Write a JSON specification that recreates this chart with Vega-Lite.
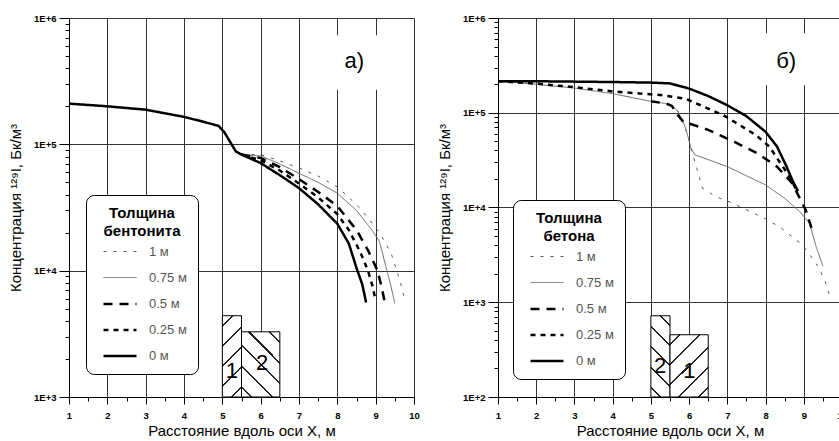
{
  "$schema": "https://vega.github.io/schema/vega-lite/v6.json",
  "background": "white",
  "padding": {"left": 8, "top": 13, "right": 0, "bottom": 0},
  "config": {
    "font": "Liberation Sans",
    "view": {"stroke": null},
    "axis": {
      "domainColor": "#000", "tickColor": "#000", "labelColor": "#000",
      "labelFont": "Liberation Sans", "labelFontWeight": "bold", "labelFontSize": 9.5,
      "titleFont": "Liberation Sans", "titleFontWeight": "normal", "titleFontSize": 15, "titleColor": "#000",
      "gridColor": "#333", "gridWidth": 1, "labelOverlap": false, "labelFlush": false
    },
    "legend": {
      "fillColor": "white", "strokeColor": "#000", "cornerRadius": 8, "padding": 11,
      "titleFont": "Liberation Sans", "titleFontSize": 15, "titleFontWeight": "bold", "titleColor": "#000",
      "titleAlign": "center", "titleAnchor": "middle", "titleLineHeight": 18, "titlePadding": 6,
      "labelFont": "Liberation Sans", "labelFontSize": 13, "labelColor": "#555", "labelOffset": 22,
      "rowPadding": 12, "symbolType": "M-3,0H3", "symbolSize": 121, "symbolOffset": 16
    }
  },
  "datasets": {
    "a": [
      {"t": "1 м", "x": 5.5, "y": 83000}, {"t": "1 м", "x": 6, "y": 83000}, {"t": "1 м", "x": 6.5, "y": 74000}, {"t": "1 м", "x": 7, "y": 65000}, {"t": "1 м", "x": 7.5, "y": 56000}, {"t": "1 м", "x": 8, "y": 46000}, {"t": "1 м", "x": 8.3, "y": 38000}, {"t": "1 м", "x": 8.6, "y": 31000}, {"t": "1 м", "x": 8.85, "y": 25000}, {"t": "1 м", "x": 9.1, "y": 20000}, {"t": "1 м", "x": 9.4, "y": 13800}, {"t": "1 м", "x": 9.55, "y": 10000}, {"t": "1 м", "x": 9.65, "y": 8000}, {"t": "1 м", "x": 9.75, "y": 6000},
      {"t": "0.75 м", "x": 5.5, "y": 83000}, {"t": "0.75 м", "x": 6, "y": 81000}, {"t": "0.75 м", "x": 6.5, "y": 70000}, {"t": "0.75 м", "x": 7, "y": 59000}, {"t": "0.75 м", "x": 7.5, "y": 50000}, {"t": "0.75 м", "x": 8, "y": 41000}, {"t": "0.75 м", "x": 8.5, "y": 30000}, {"t": "0.75 м", "x": 8.9, "y": 21000}, {"t": "0.75 м", "x": 9.1, "y": 17000}, {"t": "0.75 м", "x": 9.26, "y": 11000}, {"t": "0.75 м", "x": 9.4, "y": 7500}, {"t": "0.75 м", "x": 9.5, "y": 5500},
      {"t": "0.5 м", "x": 5.5, "y": 83000}, {"t": "0.5 м", "x": 6, "y": 78000}, {"t": "0.5 м", "x": 6.5, "y": 66000}, {"t": "0.5 м", "x": 7, "y": 53000}, {"t": "0.5 м", "x": 7.5, "y": 42000}, {"t": "0.5 м", "x": 8, "y": 32500}, {"t": "0.5 м", "x": 8.5, "y": 21000}, {"t": "0.5 м", "x": 8.8, "y": 14500}, {"t": "0.5 м", "x": 9.05, "y": 10000}, {"t": "0.5 м", "x": 9.15, "y": 7500}, {"t": "0.5 м", "x": 9.23, "y": 5800},
      {"t": "0.25 м", "x": 5.5, "y": 83000}, {"t": "0.25 м", "x": 6, "y": 75000}, {"t": "0.25 м", "x": 6.5, "y": 62000}, {"t": "0.25 м", "x": 7, "y": 49000}, {"t": "0.25 м", "x": 7.5, "y": 38000}, {"t": "0.25 м", "x": 8, "y": 28000}, {"t": "0.25 м", "x": 8.3, "y": 21000}, {"t": "0.25 м", "x": 8.6, "y": 14000}, {"t": "0.25 м", "x": 8.8, "y": 10000}, {"t": "0.25 м", "x": 8.92, "y": 7500}, {"t": "0.25 м", "x": 9.0, "y": 5800},
      {"t": "0 м", "x": 1, "y": 210000}, {"t": "0 м", "x": 2, "y": 200000}, {"t": "0 м", "x": 3, "y": 188000}, {"t": "0 м", "x": 4, "y": 165000}, {"t": "0 м", "x": 4.5, "y": 151000}, {"t": "0 м", "x": 4.9, "y": 140000}, {"t": "0 м", "x": 5.05, "y": 125000}, {"t": "0 м", "x": 5.2, "y": 105000}, {"t": "0 м", "x": 5.35, "y": 88000}, {"t": "0 м", "x": 5.5, "y": 83000}, {"t": "0 м", "x": 6, "y": 71000}, {"t": "0 м", "x": 6.5, "y": 57000}, {"t": "0 м", "x": 7, "y": 45000}, {"t": "0 м", "x": 7.5, "y": 33500}, {"t": "0 м", "x": 8, "y": 23500}, {"t": "0 м", "x": 8.3, "y": 16400}, {"t": "0 м", "x": 8.5, "y": 10500}, {"t": "0 м", "x": 8.65, "y": 7800}, {"t": "0 м", "x": 8.75, "y": 5600}
    ],
    "b": [
      {"t": "1 м", "x": 5.5, "y": 122000}, {"t": "1 м", "x": 5.7, "y": 105000}, {"t": "1 м", "x": 5.88, "y": 74000}, {"t": "1 м", "x": 6.0, "y": 51000}, {"t": "1 м", "x": 6.05, "y": 42000}, {"t": "1 м", "x": 6.2, "y": 26000}, {"t": "1 м", "x": 6.35, "y": 16000}, {"t": "1 м", "x": 6.7, "y": 13000}, {"t": "1 м", "x": 7.05, "y": 11500}, {"t": "1 м", "x": 7.7, "y": 8700}, {"t": "1 м", "x": 8.05, "y": 7400}, {"t": "1 м", "x": 8.4, "y": 6100}, {"t": "1 м", "x": 8.7, "y": 4900}, {"t": "1 м", "x": 8.97, "y": 4000}, {"t": "1 м", "x": 9.2, "y": 3000}, {"t": "1 м", "x": 9.4, "y": 2300}, {"t": "1 м", "x": 9.55, "y": 1700}, {"t": "1 м", "x": 9.67, "y": 1200},
      {"t": "0.75 м", "x": 1, "y": 215000}, {"t": "0.75 м", "x": 2, "y": 200000}, {"t": "0.75 м", "x": 3, "y": 182000}, {"t": "0.75 м", "x": 4, "y": 159000}, {"t": "0.75 м", "x": 5, "y": 132000}, {"t": "0.75 м", "x": 5.4, "y": 125000}, {"t": "0.75 м", "x": 5.5, "y": 122000}, {"t": "0.75 м", "x": 5.7, "y": 105000}, {"t": "0.75 м", "x": 5.88, "y": 74000}, {"t": "0.75 м", "x": 6.0, "y": 51000}, {"t": "0.75 м", "x": 6.05, "y": 42000}, {"t": "0.75 м", "x": 6.15, "y": 36000}, {"t": "0.75 м", "x": 7, "y": 27000}, {"t": "0.75 м", "x": 8, "y": 17300}, {"t": "0.75 м", "x": 8.5, "y": 12500}, {"t": "0.75 м", "x": 8.9, "y": 9000}, {"t": "0.75 м", "x": 9.15, "y": 6800}, {"t": "0.75 м", "x": 9.32, "y": 3900}, {"t": "0.75 м", "x": 9.5, "y": 2400},
      {"t": "0.5 м", "x": 5.0, "y": 132000}, {"t": "0.5 м", "x": 5.4, "y": 125000}, {"t": "0.5 м", "x": 5.55, "y": 118000}, {"t": "0.5 м", "x": 5.7, "y": 95000}, {"t": "0.5 м", "x": 5.85, "y": 80000}, {"t": "0.5 м", "x": 6.0, "y": 77000}, {"t": "0.5 м", "x": 6.5, "y": 66000}, {"t": "0.5 м", "x": 7.2, "y": 49000}, {"t": "0.5 м", "x": 7.8, "y": 37000}, {"t": "0.5 м", "x": 8.3, "y": 27000}, {"t": "0.5 м", "x": 8.7, "y": 18000}, {"t": "0.5 м", "x": 9.05, "y": 9400}, {"t": "0.5 м", "x": 9.23, "y": 5600},
      {"t": "0.25 м", "x": 1, "y": 215000}, {"t": "0.25 м", "x": 2, "y": 203000}, {"t": "0.25 м", "x": 3, "y": 186000}, {"t": "0.25 м", "x": 4, "y": 168000}, {"t": "0.25 м", "x": 4.7, "y": 160000}, {"t": "0.25 м", "x": 5.3, "y": 153000}, {"t": "0.25 м", "x": 5.9, "y": 141000}, {"t": "0.25 м", "x": 6.3, "y": 120000}, {"t": "0.25 м", "x": 6.9, "y": 94000}, {"t": "0.25 м", "x": 7.4, "y": 71000}, {"t": "0.25 м", "x": 7.75, "y": 58000}, {"t": "0.25 м", "x": 8.1, "y": 44000}, {"t": "0.25 м", "x": 8.35, "y": 31000}, {"t": "0.25 м", "x": 8.6, "y": 22000}, {"t": "0.25 м", "x": 8.8, "y": 15500},
      {"t": "0 м", "x": 1, "y": 215000}, {"t": "0 м", "x": 2, "y": 215000}, {"t": "0 м", "x": 3, "y": 213000}, {"t": "0 м", "x": 4, "y": 211000}, {"t": "0 м", "x": 5, "y": 208000}, {"t": "0 м", "x": 5.5, "y": 204000}, {"t": "0 м", "x": 6, "y": 180000}, {"t": "0 м", "x": 6.5, "y": 150000}, {"t": "0 м", "x": 7, "y": 120000}, {"t": "0 м", "x": 7.25, "y": 105000}, {"t": "0 м", "x": 7.5, "y": 92000}, {"t": "0 м", "x": 8, "y": 63000}, {"t": "0 м", "x": 8.3, "y": 44000}, {"t": "0 м", "x": 8.55, "y": 27000}, {"t": "0 м", "x": 8.7, "y": 19500}, {"t": "0 м", "x": 8.85, "y": 14800}
    ],
    "a_box": [{"x": 7.6, "x2": 9.6, "y": 270000, "y2": 730000}],
    "b_box": [{"x": 7.6, "x2": 9.6, "y": 195000, "y2": 690000}],
    "a_blk1": [{"x": 5, "x2": 5.5, "y": 1000, "y2": 4400}],
    "a_blk2": [{"x": 5.5, "x2": 6.5, "y": 1000, "y2": 3280}],
    "b_blk2": [{"x": 5, "x2": 5.5, "y": 100, "y2": 720}],
    "b_blk1": [{"x": 5.5, "x2": 6.5, "y": 100, "y2": 454}],
    "a_num": [{"x": 5.25, "y": 1600, "label": "1"}, {"x": 6.04, "y": 1850, "label": "2"}],
    "b_num": [{"x": 5.24, "y": 210, "label": "2"}, {"x": 6.01, "y": 186, "label": "1"}],
    "a_lab": [{"x": 8.44, "y": 460000, "label": "а)"}],
    "b_lab": [{"x": 8.54, "y": 350000, "label": "б)"}]
  },
  "bounds": "flush",
  "spacing": 84,
  "resolve": {
    "scale": {"x": "independent", "y": "independent", "color": "independent", "strokeDash": "independent", "strokeWidth": "independent"},
    "legend": {"color": "independent", "strokeDash": "independent", "strokeWidth": "independent"}
  },
  "hconcat": [
    {
      "width": 345, "height": 379,
      "encoding": {
        "x": {"field": "x", "type": "quantitative", "scale": {"domain": [1, 10], "nice": false, "zero": false},
          "axis": {"title": "Расстояние вдоль оси X, м", "values": [1, 1.5, 2, 2.5, 3, 3.5, 4, 4.5, 5, 5.5, 6, 6.5, 7, 7.5, 8, 8.5, 9, 9.5, 10],
            "labelExpr": "datum.value % 1 == 0 ? format(datum.value, 'd') : ''",
            "tickSize": {"condition": {"test": "datum.value % 1 == 0", "value": 7}, "value": 4},
            "gridOpacity": {"condition": {"test": "datum.value % 1 == 0", "value": 1}, "value": 0},
            "labelPadding": 6, "titlePadding": 4}},
        "y": {"field": "y", "type": "quantitative", "scale": {"type": "log", "domain": [1000, 1000000], "nice": false},
          "axis": {"title": "Концентрация ¹²⁹I, Бк/м³",
            "values": [1000, 2000, 3000, 4000, 5000, 6000, 7000, 8000, 9000, 10000, 20000, 30000, 40000, 50000, 60000, 70000, 80000, 90000, 100000, 200000, 300000, 400000, 500000, 600000, 700000, 800000, 900000, 1000000],
            "labelExpr": "abs(log(datum.value)/LN10 - round(log(datum.value)/LN10)) < 0.001 ? '1E+' + round(log(datum.value)/LN10) : ''",
            "tickSize": {"condition": {"test": "abs(log(datum.value)/LN10 - round(log(datum.value)/LN10)) < 0.001", "value": 10}, "value": 4},
            "gridOpacity": {"condition": {"test": "abs(log(datum.value)/LN10 - round(log(datum.value)/LN10)) < 0.001", "value": 1}, "value": 0},
            "labelPadding": 3, "titlePadding": 10}}
      },
      "layer": [
        {"data": {"name": "a_box"}, "mark": {"type": "rect", "fill": "white", "stroke": null}, "encoding": {"x2": {"field": "x2"}, "y2": {"field": "y2"}}},
        {"data": {"name": "a_blk1"}, "mark": {"type": "rect", "stroke": "#000", "strokeWidth": 1,
          "fill": {"gradient": "linear", "x1": 0, "y1": 0, "x2": 0.278, "y2": 1.171, "stops": [{"offset": 0, "color": "#fff"}, {"offset": 0.09, "color": "#fff"}, {"offset": 0.09, "color": "#222"}, {"offset": 0.11, "color": "#222"}, {"offset": 0.11, "color": "#fff"}, {"offset": 0.29, "color": "#fff"}, {"offset": 0.29, "color": "#222"}, {"offset": 0.31, "color": "#222"}, {"offset": 0.31, "color": "#fff"}, {"offset": 0.49, "color": "#fff"}, {"offset": 0.49, "color": "#222"}, {"offset": 0.51, "color": "#222"}, {"offset": 0.51, "color": "#fff"}, {"offset": 0.69, "color": "#fff"}, {"offset": 0.69, "color": "#222"}, {"offset": 0.71, "color": "#222"}, {"offset": 0.71, "color": "#fff"}, {"offset": 0.89, "color": "#fff"}, {"offset": 0.89, "color": "#222"}, {"offset": 0.91, "color": "#222"}, {"offset": 0.91, "color": "#fff"}, {"offset": 1, "color": "#fff"}]}},
          "encoding": {"x2": {"field": "x2"}, "y2": {"field": "y2"}}},
        {"data": {"name": "a_blk2"}, "mark": {"type": "rect", "stroke": "#000", "strokeWidth": 1,
          "fill": {"gradient": "linear", "x1": 0, "y1": 1, "x2": 0.695, "y2": -0.18, "stops": [{"offset": 0, "color": "#fff"}, {"offset": 0.09, "color": "#fff"}, {"offset": 0.09, "color": "#222"}, {"offset": 0.11, "color": "#222"}, {"offset": 0.11, "color": "#fff"}, {"offset": 0.29, "color": "#fff"}, {"offset": 0.29, "color": "#222"}, {"offset": 0.31, "color": "#222"}, {"offset": 0.31, "color": "#fff"}, {"offset": 0.49, "color": "#fff"}, {"offset": 0.49, "color": "#222"}, {"offset": 0.51, "color": "#222"}, {"offset": 0.51, "color": "#fff"}, {"offset": 0.69, "color": "#fff"}, {"offset": 0.69, "color": "#222"}, {"offset": 0.71, "color": "#222"}, {"offset": 0.71, "color": "#fff"}, {"offset": 0.89, "color": "#fff"}, {"offset": 0.89, "color": "#222"}, {"offset": 0.91, "color": "#222"}, {"offset": 0.91, "color": "#fff"}, {"offset": 1, "color": "#fff"}]}},
          "encoding": {"x2": {"field": "x2"}, "y2": {"field": "y2"}}},
        {"data": {"name": "a_num"}, "mark": {"type": "text", "fontSize": 22, "color": "#000"}, "encoding": {"text": {"field": "label"}}},
        {"data": {"name": "a"}, "mark": {"type": "line", "strokeCap": "butt"},
          "encoding": {
            "color": {"field": "t", "type": "nominal", "scale": {"domain": ["1 м", "0.75 м", "0.5 м", "0.25 м", "0 м"], "range": ["#555", "#666", "#000", "#000", "#000"]},
              "legend": {"title": ["Толщина", "бентонита"], "orient": "none", "legendX": 17, "legendY": 177}},
            "strokeDash": {"field": "t", "type": "nominal", "scale": {"domain": ["1 м", "0.75 м", "0.5 м", "0.25 м", "0 м"], "range": [[3, 7], [1, 0], [9, 7], [5, 5], [1, 0]]},
              "legend": {"title": ["Толщина", "бентонита"], "orient": "none", "legendX": 17, "legendY": 177}},
            "strokeWidth": {"field": "t", "type": "nominal", "scale": {"type": "ordinal", "domain": ["1 м", "0.75 м", "0.5 м", "0.25 м", "0 м"], "range": [1, 1, 2.5, 2.5, 2.5]},
              "legend": {"title": ["Толщина", "бентонита"], "orient": "none", "legendX": 17, "legendY": 177}}
          }},
        {"data": {"name": "a_lab"}, "mark": {"type": "text", "fontSize": 22, "color": "#000"}, "encoding": {"text": {"field": "label"}}}
      ]
    },
    {
      "width": 344, "height": 379,
      "encoding": {
        "x": {"field": "x", "type": "quantitative", "scale": {"domain": [1, 10], "nice": false, "zero": false},
          "axis": {"title": "Расстояние вдоль оси X, м", "values": [1, 1.5, 2, 2.5, 3, 3.5, 4, 4.5, 5, 5.5, 6, 6.5, 7, 7.5, 8, 8.5, 9, 9.5, 10],
            "labelExpr": "datum.value % 1 == 0 ? format(datum.value, 'd') : ''",
            "tickSize": {"condition": {"test": "datum.value % 1 == 0", "value": 7}, "value": 4},
            "gridOpacity": {"condition": {"test": "datum.value % 1 == 0", "value": 1}, "value": 0},
            "labelPadding": 6, "titlePadding": 4}},
        "y": {"field": "y", "type": "quantitative", "scale": {"type": "log", "domain": [100, 1000000], "nice": false},
          "axis": {"title": "Концентрация ¹²⁹I, Бк/м³",
            "values": [100, 200, 300, 400, 500, 600, 700, 800, 900, 1000, 2000, 3000, 4000, 5000, 6000, 7000, 8000, 9000, 10000, 20000, 30000, 40000, 50000, 60000, 70000, 80000, 90000, 100000, 200000, 300000, 400000, 500000, 600000, 700000, 800000, 900000, 1000000],
            "labelExpr": "abs(log(datum.value)/LN10 - round(log(datum.value)/LN10)) < 0.001 ? '1E+' + round(log(datum.value)/LN10) : ''",
            "tickSize": {"condition": {"test": "abs(log(datum.value)/LN10 - round(log(datum.value)/LN10)) < 0.001", "value": 10}, "value": 4},
            "gridOpacity": {"condition": {"test": "abs(log(datum.value)/LN10 - round(log(datum.value)/LN10)) < 0.001", "value": 1}, "value": 0},
            "labelPadding": 3, "titlePadding": 10}}
      },
      "layer": [
        {"data": {"name": "b_box"}, "mark": {"type": "rect", "fill": "white", "stroke": null}, "encoding": {"x2": {"field": "x2"}, "y2": {"field": "y2"}}},
        {"data": {"name": "b_blk2"}, "mark": {"type": "rect", "stroke": "#000", "strokeWidth": 1,
          "fill": {"gradient": "linear", "x1": 0, "y1": 1, "x2": 0.275, "y2": -0.17, "stops": [{"offset": 0, "color": "#fff"}, {"offset": 0.09, "color": "#fff"}, {"offset": 0.09, "color": "#222"}, {"offset": 0.11, "color": "#222"}, {"offset": 0.11, "color": "#fff"}, {"offset": 0.29, "color": "#fff"}, {"offset": 0.29, "color": "#222"}, {"offset": 0.31, "color": "#222"}, {"offset": 0.31, "color": "#fff"}, {"offset": 0.49, "color": "#fff"}, {"offset": 0.49, "color": "#222"}, {"offset": 0.51, "color": "#222"}, {"offset": 0.51, "color": "#fff"}, {"offset": 0.69, "color": "#fff"}, {"offset": 0.69, "color": "#222"}, {"offset": 0.71, "color": "#222"}, {"offset": 0.71, "color": "#fff"}, {"offset": 0.89, "color": "#fff"}, {"offset": 0.89, "color": "#222"}, {"offset": 0.91, "color": "#222"}, {"offset": 0.91, "color": "#fff"}, {"offset": 1, "color": "#fff"}]}},
          "encoding": {"x2": {"field": "x2"}, "y2": {"field": "y2"}}},
        {"data": {"name": "b_blk1"}, "mark": {"type": "rect", "stroke": "#000", "strokeWidth": 1,
          "fill": {"gradient": "linear", "x1": 0, "y1": 0, "x2": 0.719, "y2": 1.173, "stops": [{"offset": 0, "color": "#fff"}, {"offset": 0.09, "color": "#fff"}, {"offset": 0.09, "color": "#222"}, {"offset": 0.11, "color": "#222"}, {"offset": 0.11, "color": "#fff"}, {"offset": 0.29, "color": "#fff"}, {"offset": 0.29, "color": "#222"}, {"offset": 0.31, "color": "#222"}, {"offset": 0.31, "color": "#fff"}, {"offset": 0.49, "color": "#fff"}, {"offset": 0.49, "color": "#222"}, {"offset": 0.51, "color": "#222"}, {"offset": 0.51, "color": "#fff"}, {"offset": 0.69, "color": "#fff"}, {"offset": 0.69, "color": "#222"}, {"offset": 0.71, "color": "#222"}, {"offset": 0.71, "color": "#fff"}, {"offset": 0.89, "color": "#fff"}, {"offset": 0.89, "color": "#222"}, {"offset": 0.91, "color": "#222"}, {"offset": 0.91, "color": "#fff"}, {"offset": 1, "color": "#fff"}]}},
          "encoding": {"x2": {"field": "x2"}, "y2": {"field": "y2"}}},
        {"data": {"name": "b_num"}, "mark": {"type": "text", "fontSize": 22, "color": "#000"}, "encoding": {"text": {"field": "label"}}},
        {"data": {"name": "b"}, "mark": {"type": "line", "strokeCap": "butt"},
          "encoding": {
            "color": {"field": "t", "type": "nominal", "scale": {"domain": ["1 м", "0.75 м", "0.5 м", "0.25 м", "0 м"], "range": ["#555", "#666", "#000", "#000", "#000"]},
              "legend": {"title": ["Толщина", "бетона"], "orient": "none", "legendX": 15, "legendY": 182}},
            "strokeDash": {"field": "t", "type": "nominal", "scale": {"domain": ["1 м", "0.75 м", "0.5 м", "0.25 м", "0 м"], "range": [[3, 7], [1, 0], [9, 7], [5, 5], [1, 0]]},
              "legend": {"title": ["Толщина", "бетона"], "orient": "none", "legendX": 15, "legendY": 182}},
            "strokeWidth": {"field": "t", "type": "nominal", "scale": {"type": "ordinal", "domain": ["1 м", "0.75 м", "0.5 м", "0.25 м", "0 м"], "range": [1, 1, 2.5, 2.5, 2.5]},
              "legend": {"title": ["Толщина", "бетона"], "orient": "none", "legendX": 15, "legendY": 182}}
          }},
        {"data": {"name": "b_lab"}, "mark": {"type": "text", "fontSize": 22, "color": "#000"}, "encoding": {"text": {"field": "label"}}}
      ]
    }
  ]
}
